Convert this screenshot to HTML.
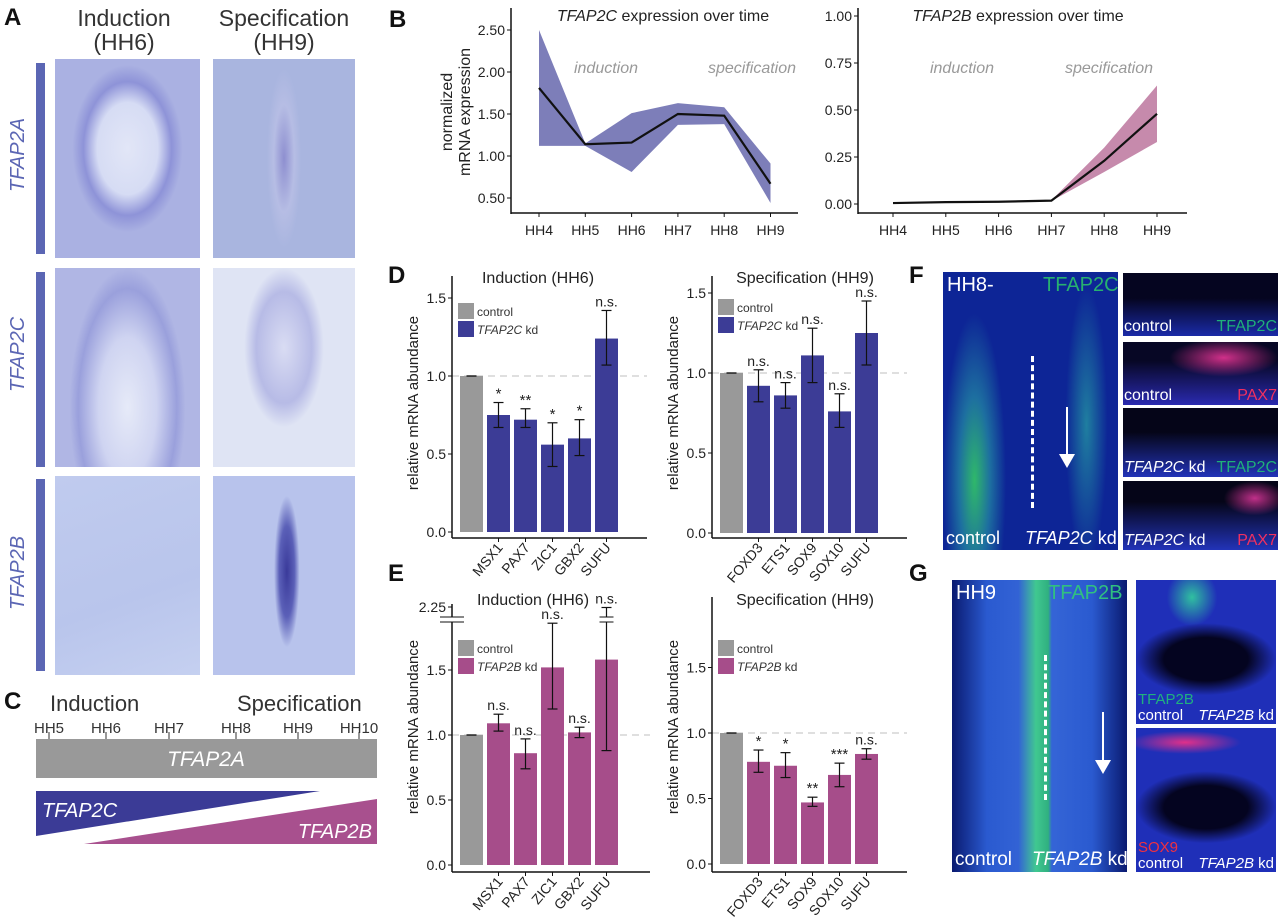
<!DOCTYPE html>
<html><head><meta charset="utf-8">
<style>
body{margin:0;background:#fff;}
#root{position:relative;width:1280px;height:917px;overflow:hidden;background:#fff;font-family:"Liberation Sans",sans-serif;}
.abs{position:absolute;}
.lbl{position:absolute;font-weight:bold;font-size:24px;color:#111;}
.img{position:absolute;overflow:hidden;}
.t{position:absolute;color:#fff;font-size:18px;white-space:nowrap;}
</style></head>
<body>
<div id="root">

<!-- Panel A -->
<div class="lbl" style="left:4px;top:4px">A</div>
<div class="abs" style="left:64px;top:6px;width:120px;text-align:center;font-size:23px;color:#333;line-height:24px">Induction<br>(HH6)</div>
<div class="abs" style="left:204px;top:6px;width:160px;text-align:center;font-size:23px;color:#333;line-height:24px">Specification<br>(HH9)</div>

<div class="abs" style="left:36px;top:63px;width:9px;height:191px;background:#5b66b4"></div>
<div class="abs" style="left:36px;top:272px;width:9px;height:195px;background:#5b66b4"></div>
<div class="abs" style="left:36px;top:479px;width:9px;height:192px;background:#5b66b4"></div>
<div class="abs" style="left:7px;top:192px;font-size:20px;font-style:italic;color:#5b66b4;transform:rotate(-90deg);transform-origin:left top">TFAP2A</div>
<div class="abs" style="left:7px;top:392px;font-size:20px;font-style:italic;color:#5b66b4;transform:rotate(-90deg);transform-origin:left top">TFAP2C</div>
<div class="abs" style="left:7px;top:610px;font-size:20px;font-style:italic;color:#5b66b4;transform:rotate(-90deg);transform-origin:left top">TFAP2B</div>

<div class="img" style="left:55px;top:59px;width:145px;height:199px;background:radial-gradient(ellipse 38% 42% at 50% 45%,#e2e6f7 0%,#d6dcf4 55%,#8e93d8 80%,#aab1e2 100%)"></div>
<div class="img" style="left:213px;top:59px;width:142px;height:199px;background:radial-gradient(ellipse 12% 45% at 50% 50%,#8e8fd0 0%,#b6bde4 60%,#a9b5df 100%)"></div>
<div class="img" style="left:55px;top:268px;width:145px;height:199px;background:radial-gradient(ellipse 40% 70% at 50% 70%,#e6eaf8 0%,#cfd4f1 50%,#9aa0dc 85%,#b0b6e4 100%)"></div>
<div class="img" style="left:213px;top:268px;width:142px;height:199px;background:radial-gradient(ellipse 28% 40% at 50% 40%,#d9dcf3 0%,#b7bbe6 70%,#dfe4f4 100%)"></div>
<div class="img" style="left:55px;top:476px;width:145px;height:199px;background:linear-gradient(160deg,#c0cbee,#b9c5ec 60%,#c5d0f0)"></div>
<div class="img" style="left:213px;top:476px;width:142px;height:199px;background:radial-gradient(ellipse 9% 38% at 52% 48%,#3a3a9a 0%,#5b60b8 60%,#b8c3ec 100%)"></div>

<!-- Panel C -->
<div class="lbl" style="left:4px;top:688px">C</div>

<!-- Panel letters -->
<div class="lbl" style="left:389px;top:6px">B</div>
<div class="lbl" style="left:388px;top:262px">D</div>
<div class="lbl" style="left:388px;top:560px">E</div>
<div class="lbl" style="left:909px;top:262px">F</div>
<div class="lbl" style="left:909px;top:560px">G</div>

<!-- Panel F -->
<div class="img" style="left:943px;top:272px;width:175px;height:278px;background:radial-gradient(ellipse 18% 60% at 18% 75%,#2fb86a 0%,#1d6fa0 50%,rgba(10,30,150,0) 100%),radial-gradient(ellipse 12% 50% at 82% 55%,#1f7fa0 0%,rgba(10,30,150,0) 100%),#0d2596">
<div class="abs" style="left:88px;top:84px;height:152px;border-left:3px dashed #fff"></div>
<div class="abs" style="left:123px;top:135px;width:2px;height:50px;background:#fff"></div>
<div class="abs" style="left:116px;top:182px;width:0;height:0;border-left:8px solid transparent;border-right:8px solid transparent;border-top:14px solid #fff"></div>
<div class="t" style="left:4px;top:2px;font-size:20px">HH8-</div>
<div class="t" style="left:100px;top:2px;font-size:20px;color:#27b070">TFAP2C</div>
<div class="t" style="left:3px;bottom:1px;font-size:18px">control</div>
<div class="t" style="left:82px;bottom:1px;font-size:18px"><i>TFAP2C</i> kd</div>
</div>
<div class="img" style="left:1123px;top:273px;width:155px;height:63px;background:linear-gradient(#050520 40%,#1a2aa8)"><div class="t" style="left:1px;bottom:0;font-size:16px">control</div><div class="t" style="right:1px;bottom:0;font-size:16px;color:#1fb07a">TFAP2C</div></div>
<div class="img" style="left:1123px;top:342px;width:155px;height:63px;background:radial-gradient(ellipse 35% 30% at 65% 25%,#d0308a,rgba(0,0,0,0)),linear-gradient(#070725 30%,#2a2ab0)"><div class="t" style="left:1px;bottom:0;font-size:16px">control</div><div class="t" style="right:1px;bottom:0;font-size:16px;color:#f03060">PAX7</div></div>
<div class="img" style="left:1123px;top:408px;width:155px;height:69px;background:linear-gradient(#050518 35%,#2233b8)"><div class="t" style="left:1px;bottom:0;font-size:16px"><i>TFAP2C</i> kd</div><div class="t" style="right:1px;bottom:0;font-size:16px;color:#1fb07a">TFAP2C</div></div>
<div class="img" style="left:1123px;top:481px;width:155px;height:69px;background:radial-gradient(ellipse 20% 25% at 85% 25%,#c0308a,rgba(0,0,0,0)),linear-gradient(#050518 30%,#2233b8)"><div class="t" style="left:1px;bottom:0;font-size:16px"><i>TFAP2C</i> kd</div><div class="t" style="right:1px;bottom:0;font-size:16px;color:#f03060">PAX7</div></div>

<!-- Panel G -->
<div class="img" style="left:952px;top:580px;width:175px;height:292px;background:linear-gradient(90deg,rgba(0,0,0,0) 38%,#40c890 48%,#30b080 55%,rgba(0,0,0,0) 57%),linear-gradient(90deg,#0a1a70 0%,#2a5ad0 20%,#3868d8 50%,#2a5ad0 80%,#0a1a70 100%)">
<div class="abs" style="left:92px;top:75px;height:145px;border-left:3px dashed #fff"></div>
<div class="abs" style="left:150px;top:132px;width:2px;height:50px;background:#fff"></div>
<div class="abs" style="left:143px;top:180px;width:0;height:0;border-left:8px solid transparent;border-right:8px solid transparent;border-top:14px solid #fff"></div>
<div class="t" style="left:4px;top:2px;font-size:20px">HH9</div>
<div class="t" style="left:96px;top:2px;font-size:20px;color:#30c080">TFAP2B</div>
<div class="t" style="left:3px;bottom:1px;font-size:19px">control</div>
<div class="t" style="left:80px;bottom:1px;font-size:19px"><i>TFAP2B</i> kd</div>
</div>
<div class="img" style="left:1136px;top:580px;width:140px;height:144px;background:radial-gradient(ellipse 50% 25% at 50% 55%,#040420 60%,rgba(0,0,0,0) 100%),radial-gradient(ellipse 18% 20% at 40% 12%,#30c0a0,rgba(0,0,0,0)),#1f2fb8"><div class="t" style="left:2px;bottom:16px;font-size:15px;color:#20b080">TFAP2B</div><div class="t" style="left:2px;bottom:0;font-size:15px">control</div><div class="t" style="right:2px;bottom:0;font-size:15px"><i>TFAP2B</i> kd</div></div>
<div class="img" style="left:1136px;top:728px;width:140px;height:144px;background:radial-gradient(ellipse 50% 25% at 50% 55%,#040420 60%,rgba(0,0,0,0) 100%),radial-gradient(ellipse 40% 8% at 35% 10%,#e0308a,rgba(0,0,0,0)),#1f2fb8"><div class="t" style="left:2px;bottom:16px;font-size:15px;color:#f03040">SOX9</div><div class="t" style="left:2px;bottom:0;font-size:15px">control</div><div class="t" style="right:2px;bottom:0;font-size:15px"><i>TFAP2B</i> kd</div></div>

<svg id="chart" class="abs" style="left:0;top:0" width="1280" height="917"></svg>
</div>

<script>
// Panel B data
const stages = ["HH4","HH5","HH6","HH7","HH8","HH9"];
const tfap2cMean = [1.81,1.14,1.16,1.50,1.48,0.67];
const tfap2cUpper = [2.50,1.15,1.51,1.63,1.58,0.91];
const tfap2cLower = [1.12,1.12,0.81,1.37,1.38,0.44];
const tfap2cTicks = [0.5,1.0,1.5,2.0,2.5];
const tfap2bMean = [0.005,0.01,0.012,0.018,0.23,0.48];
const tfap2bUpper = [0.005,0.01,0.012,0.02,0.30,0.63];
const tfap2bLower = [0.005,0.01,0.012,0.016,0.17,0.33];
const tfap2bTicks = [0,0.25,0.5,0.75,1.0];
// Panel D data
const dIndGenes = ["MSX1","PAX7","ZIC1","GBX2","SUFU"];
const dIndValues = [1.0,0.75,0.72,0.56,0.60,1.24];
const dIndLow = [1.0,0.67,0.67,0.42,0.49,1.07];
const dIndHigh = [1.0,0.83,0.79,0.70,0.72,1.42];
const dIndSig = ["","*","**","*","*","n.s."];
const dSpecGenes = ["FOXD3","ETS1","SOX9","SOX10","SUFU"];
const dSpecValues = [1.0,0.92,0.86,1.11,0.76,1.25];
const dSpecLow = [1.0,0.82,0.78,0.94,0.66,1.05];
const dSpecHigh = [1.0,1.02,0.94,1.28,0.87,1.45];
const dSpecSig = ["","n.s.","n.s.","n.s.","n.s.","n.s."];
// Panel E data
const eIndGenes = ["MSX1","PAX7","ZIC1","GBX2","SUFU"];
const eIndValues = [1.0,1.09,0.86,1.52,1.02,1.58];
const eIndLow = [1.0,1.03,0.74,1.20,0.98,0.88];
const eIndHigh = [1.0,1.16,0.97,1.86,1.06,2.27];
const eIndSig = ["","n.s.","n.s.","n.s.","n.s.","n.s."];
const eSpecGenes = ["FOXD3","ETS1","SOX9","SOX10","SUFU"];
const eSpecValues = [1.0,0.78,0.75,0.47,0.68,0.84];
const eSpecLow = [1.0,0.70,0.66,0.44,0.59,0.80];
const eSpecHigh = [1.0,0.87,0.85,0.51,0.77,0.88];
const eSpecSig = ["","*","*","**","***","n.s."];
const barTicks = [0.0,0.5,1.0,1.5];
const cStages = ["HH5","HH6","HH7","HH8","HH9","HH10"];

const NS="http://www.w3.org/2000/svg";
const svg=document.getElementById('chart');
function mk(tag,attrs,parent,text){const e=document.createElementNS(NS,tag);for(const k in attrs)e.setAttribute(k,attrs[k]);if(text!==undefined)e.textContent=text;(parent||svg).appendChild(e);return e;}
function grp(name){const g=mk('g',{});return g;}

// ---- Panel C ----
(function(){
  const g=grp('panel-c-timeline');
  mk('text',{x:50,y:711,'font-size':22,fill:'#333'},g,'Induction');
  mk('text',{x:237,y:711,'font-size':22,fill:'#333'},g,'Specification');
  const cx=[49,106,169,236,298,359];
  cStages.forEach((s,i)=>{
    const tk=mk('line',{x1:cx[i],x2:cx[i],y1:732,y2:740,stroke:'#333','stroke-width':1},g);
    
    const l=mk('text',{x:cx[i],y:733,'font-size':15,fill:'#333','text-anchor':'middle'},g,s);
    
  });
  const r=mk('rect',{x:36,y:739,width:341,height:39,fill:'#999'},g);
  
  mk('text',{x:206,y:766,'font-size':21,'font-style':'italic',fill:'#fff','text-anchor':'middle'},g,'TFAP2A');
  const b=mk('polygon',{points:'36,791 320,791 36,836',fill:'#3b3b96'},g);
  
  mk('text',{x:42,y:817,'font-size':20,'font-style':'italic',fill:'#fff'},g,'TFAP2C');
  const p=mk('polygon',{points:'84,844 377,799 377,844',fill:'#a8508e'},g);
  
  mk('text',{x:372,y:838,'font-size':20,'font-style':'italic',fill:'#fff','text-anchor':'end'},g,'TFAP2B');
})();

// ---- Panel B line charts ----
function lineChart(o){
  const g=grp(o.name);
  const X=i=>o.x0+i*o.dx;
  const Y=v=>o.yBase-(v-o.vBase)*o.ppu;
  let pts=o.upper.map((v,i)=>X(i)+','+Y(v));
  for(let i=o.lower.length-1;i>=0;i--)pts.push(X(i)+','+Y(o.lower[i]));
  const band=mk('polygon',{points:pts.join(' '),fill:o.band},g);
  
  const line=mk('polyline',{points:o.mean.map((v,i)=>X(i)+','+Y(v)).join(' '),fill:'none',stroke:'#111','stroke-width':2.2},g);
  
  mk('line',{x1:o.ax,x2:o.ax,y1:8,y2:214,stroke:'#111','stroke-width':1.5},g);
  mk('line',{x1:o.ax,x2:o.xEnd,y1:213,y2:213,stroke:'#111','stroke-width':1.5},g);
  o.ticks.forEach(v=>{
    mk('line',{x1:o.ax-4,x2:o.ax,y1:Y(v),y2:Y(v),stroke:'#111'},g);
    const t=mk('text',{x:o.ax-6,y:Y(v)+5,'font-size':14,fill:'#222','text-anchor':'end'},g,v.toFixed(2));
    
  });
  stages.forEach((s,i)=>{
    mk('line',{x1:X(i),x2:X(i),y1:213,y2:217,stroke:'#111'},g);
    const t=mk('text',{x:X(i),y:235,'font-size':14,fill:'#222','text-anchor':'middle'},g,s);
    
  });
  const tt=mk('text',{x:o.titleX,y:21,'font-size':16,fill:'#222','text-anchor':'middle'},g);
  const ts=mk('tspan',{'font-style':'italic'},tt,o.gene);
  mk('tspan',{},tt,' expression over time');
  
  mk('text',{x:o.indX,y:73,'font-size':16,'font-style':'italic',fill:'#999','text-anchor':'middle'},g,'induction');
  mk('text',{x:o.specX,y:73,'font-size':16,'font-style':'italic',fill:'#999','text-anchor':'middle'},g,'specification');
}
lineChart({name:'tfap2c-line-chart',x0:539,dx:46.3,yBase:198,vBase:0.5,ppu:84,ax:511,xEnd:798,mean:tfap2cMean,upper:tfap2cUpper,lower:tfap2cLower,ticks:tfap2cTicks,band:'#7d7eb9',gene:'TFAP2C',titleX:663,indX:606,specX:752});
lineChart({name:'tfap2b-line-chart',x0:893,dx:52.8,yBase:204,vBase:0,ppu:188,ax:858,xEnd:1187,mean:tfap2bMean,upper:tfap2bUpper,lower:tfap2bLower,ticks:tfap2bTicks,band:'#c68aac',gene:'TFAP2B',titleX:1018,indX:962,specX:1109});
(function(){const t=mk('text',{x:0,y:0,'font-size':16,fill:'#222','text-anchor':'middle',transform:'translate(452,112) rotate(-90)'});
mk('tspan',{x:0,dy:0},t,'normalized');mk('tspan',{x:0,dy:18},t,'mRNA expression');
})();

// ---- Bar charts ----
function barChart(o){
  const g=grp(o.name);
  const Y=v=>o.y0-v*o.ppu;
  const YB=v=> v>o.breakAt ? o.breakY-6-(v-2.22)*o.ppu : Y(v);
  const bx=i=>o.ax+8+i*27;
  mk('line',{x1:o.ax,x2:o.xEnd,y1:Y(1),y2:Y(1),stroke:'#ccc','stroke-dasharray':'7,5','stroke-width':1.2},g);
  o.values.forEach((v,i)=>{
    const r=mk('rect',{x:bx(i),y:Y(v),width:23,height:Y(0)-Y(v),fill:i===0?'#999':o.color},g);
    
    const cx=bx(i)+11.5;
    const hi=YB(o.high[i]);
    mk('line',{x1:cx,x2:cx,y1:hi,y2:Y(o.low[i]),stroke:'#111','stroke-width':1.2},g);
    mk('line',{x1:cx-5,x2:cx+5,y1:hi,y2:hi,stroke:'#111','stroke-width':1.2},g);
    mk('line',{x1:cx-5,x2:cx+5,y1:Y(o.low[i]),y2:Y(o.low[i]),stroke:'#111','stroke-width':1.2},g);
    if(o.high[i]>o.breakAt){
      mk('rect',{x:cx-7,y:o.breakY-3,width:14,height:5,fill:'#fff'},g);
      mk('line',{x1:cx-7,x2:cx+7,y1:o.breakY-3,y2:o.breakY-3,stroke:'#111'},g);
      mk('line',{x1:cx-7,x2:cx+7,y1:o.breakY+2,y2:o.breakY+2,stroke:'#111'},g);
    }
    if(o.sig[i]){const s=mk('text',{x:cx,y:hi-4,'font-size':o.sig[i]==='n.s.'?14:15,fill:'#222','text-anchor':'middle'},g,o.sig[i]);}
  });
  mk('line',{x1:o.ax,x2:o.ax,y1:o.top,y2:o.xAxisY,stroke:'#111','stroke-width':1.5},g);
  mk('line',{x1:o.ax,x2:o.xEnd,y1:o.xAxisY,y2:o.xAxisY,stroke:'#111','stroke-width':1.5},g);
  barTicks.forEach(v=>{
    mk('line',{x1:o.ax-4,x2:o.ax,y1:Y(v),y2:Y(v),stroke:'#111'},g);
    mk('text',{x:o.ax-6,y:Y(v)+5,'font-size':14,fill:'#222','text-anchor':'end'},g,v.toFixed(1));
  });
  if(o.breakY){
    const by=o.breakY;
    mk('rect',{x:o.ax-2,y:by-3,width:4,height:5,fill:'#fff'},g);
    mk('line',{x1:o.ax-12,x2:o.ax+12,y1:by-3,y2:by-3,stroke:'#111'},g);
    mk('line',{x1:o.ax-12,x2:o.ax+12,y1:by+2,y2:by+2,stroke:'#111'},g);
    mk('line',{x1:o.ax,x2:o.ax,y1:by-16,y2:by-3,stroke:'#111','stroke-width':1.5},g);
    mk('line',{x1:o.ax-4,x2:o.ax,y1:by-13,y2:by-13,stroke:'#111'},g);
    mk('text',{x:o.ax-6,y:by-8,'font-size':14,fill:'#222','text-anchor':'end'},g,'2.25');
  }
  o.genes.forEach((s,i)=>{
    const cx=bx(i+1)+11.5;
    mk('line',{x1:cx,x2:cx,y1:o.xAxisY,y2:o.xAxisY+4,stroke:'#111'},g);
    const t=mk('text',{x:0,y:0,'font-size':14,fill:'#222','text-anchor':'end',transform:`translate(${cx+5},${o.xAxisY+10}) rotate(-50)`},g,s);
    
  });
  mk('text',{x:o.titleX,y:o.titleY,'font-size':16,fill:'#222','text-anchor':'middle'},g,o.title);
  const yt=mk('text',{x:0,y:0,'font-size':15,fill:'#222','text-anchor':'middle',transform:`translate(${o.ax-34},${o.yTitle}) rotate(-90)`},g,'relative mRNA abundance');
  
  const lg=mk('g',{},g);
  mk('rect',{x:o.ax+6,y:o.legY,width:16,height:16,fill:'#999'},lg);
  mk('rect',{x:o.ax+6,y:o.legY+18,width:16,height:16,fill:o.color},lg);
  mk('text',{x:o.ax+25,y:o.legY+13,'font-size':12,fill:'#333'},lg,'control');
  const kt=mk('text',{x:o.ax+25,y:o.legY+31,'font-size':12,fill:'#333'},lg);
  mk('tspan',{'font-style':'italic'},kt,o.kdGene);mk('tspan',{},kt,' kd');
}
const blue='#3c3c96', pink='#a64d8a';
barChart({name:'d-induction-chart',ax:452,y0:532,ppu:156,top:276,xAxisY:538,xEnd:647,values:dIndValues,low:dIndLow,high:dIndHigh,sig:dIndSig,genes:dIndGenes,color:blue,title:'Induction (HH6)',titleX:538,titleY:283,yTitle:403,legY:303,kdGene:'TFAP2C',breakAt:99});
barChart({name:'d-specification-chart',ax:712,y0:533,ppu:160,top:276,xAxisY:538,xEnd:907,values:dSpecValues,low:dSpecLow,high:dSpecHigh,sig:dSpecSig,genes:dSpecGenes,color:blue,title:'Specification (HH9)',titleX:805,titleY:283,yTitle:403,legY:299,kdGene:'TFAP2C',breakAt:99});
barChart({name:'e-induction-chart',ax:452,y0:865,ppu:130,top:620,xAxisY:872,xEnd:650,values:eIndValues,low:eIndLow,high:eIndHigh,sig:eIndSig,genes:eIndGenes,color:pink,title:'Induction (HH6)',titleX:533,titleY:605,yTitle:727,legY:640,kdGene:'TFAP2B',breakAt:1.95,breakY:620});
barChart({name:'e-specification-chart',ax:712,y0:864,ppu:131,top:597,xAxisY:872,xEnd:907,values:eSpecValues,low:eSpecLow,high:eSpecHigh,sig:eSpecSig,genes:eSpecGenes,color:pink,title:'Specification (HH9)',titleX:805,titleY:605,yTitle:727,legY:640,kdGene:'TFAP2B',breakAt:99});
</script>
</body></html>
